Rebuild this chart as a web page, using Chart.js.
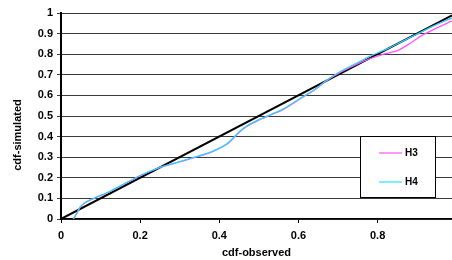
<!DOCTYPE html>
<html>
<head>
<meta charset="utf-8">
<script src="https://cdn.jsdelivr.net/npm/chart.js@4.4.1/dist/chart.umd.min.js"></script>
<style>
  html, body { margin: 0; padding: 0; background: #fff; }
  #wrap { width: 452px; height: 260px; position: relative; }
</style>
</head>
<body>
<div id="wrap"><canvas id="c"></canvas></div>
<script>
// cdf-observed vs cdf-simulated
const xTicks = [0, 0.2, 0.4, 0.6, 0.8];
const yTicks = [0, 0.1, 0.2, 0.3, 0.4, 0.5, 0.6, 0.7, 0.8, 0.9, 1];

const diagX = [0, 0.988];
const diagY = [0, 0.988];

const h3X = [0.031, 0.040, 0.048, 0.060, 0.086, 0.120, 0.160, 0.200, 0.250, 0.290, 0.340, 0.380, 0.420, 0.450, 0.470, 0.500, 0.530, 0.560, 0.600, 0.640, 0.670, 0.700, 0.740, 0.780, 0.810, 0.850, 0.880, 0.910, 0.950, 0.988];
const h3Y = [0.000, 0.028, 0.056, 0.078, 0.102, 0.130, 0.170, 0.210, 0.250, 0.272, 0.300, 0.325, 0.364, 0.420, 0.450, 0.480, 0.505, 0.530, 0.578, 0.626, 0.670, 0.706, 0.744, 0.778, 0.797, 0.817, 0.850, 0.889, 0.928, 0.962];

const h4X = [0.031, 0.040, 0.048, 0.060, 0.086, 0.120, 0.160, 0.200, 0.250, 0.290, 0.340, 0.380, 0.420, 0.450, 0.470, 0.500, 0.530, 0.560, 0.600, 0.640, 0.665, 0.700, 0.740, 0.780, 0.820, 0.860, 0.900, 0.940, 0.988];
const h4Y = [0.000, 0.028, 0.056, 0.079, 0.103, 0.131, 0.171, 0.211, 0.251, 0.273, 0.301, 0.326, 0.366, 0.422, 0.452, 0.482, 0.507, 0.532, 0.580, 0.626, 0.664, 0.710, 0.750, 0.790, 0.822, 0.860, 0.898, 0.936, 0.976];

const FONT = "'Liberation Sans', Arial, sans-serif";
const pts = (xs, ys) => xs.map((x, i) => ({ x, y: ys[i] }));

// legend box + y title drawn by hand (Excel-style inset legend)
const extras = {
  id: 'extras',
  afterDraw(chart) {
    const ctx = chart.ctx;
    ctx.save();
    ctx.font = 'bold 11px ' + FONT;
    ctx.fillStyle = '#000';
    ctx.textAlign = 'center';
    ctx.textBaseline = 'middle';
    ctx.translate(18, 135);
    ctx.rotate(-Math.PI / 2);
    ctx.fillText('cdf-simulated', 0, 0);
    ctx.restore();

    ctx.save();
    ctx.fillStyle = '#fff';
    ctx.fillRect(360, 136, 76, 61);
    ctx.strokeStyle = '#000';
    ctx.lineWidth = 1;
    ctx.strokeRect(360.5, 136.5, 75, 61);
    const entries = chart.data.datasets
      .filter(d => d.label !== 'y=x')
      .sort((a, b) => a.label.localeCompare(b.label));
    ctx.font = 'bold 10px ' + FONT;
    ctx.textBaseline = 'middle';
    ctx.textAlign = 'left';
    entries.forEach((d, i) => {
      const y = 153 + i * 29;
      ctx.strokeStyle = d.legendColor || d.borderColor;
      ctx.lineWidth = 1.2;
      ctx.beginPath();
      ctx.moveTo(379, y);
      ctx.lineTo(402, y);
      ctx.stroke();
      ctx.fillStyle = '#000';
      ctx.fillText(d.label, 405, y);
    });
    ctx.restore();
  }
};

// chart.js paints dataset 0 last (on top)
new Chart(document.getElementById('c'), {
  type: 'scatter',
  data: {
    datasets: [
      { label: 'H4', data: pts(h4X, h4Y), showLine: true, borderColor: '#33ccff', legendColor: '#22e5ff', borderWidth: 1.3, pointRadius: 0, tension: 0.2 },
      { label: 'H3', data: pts(h3X, h3Y), showLine: true, borderColor: '#ff55ff', borderWidth: 1.3, pointRadius: 0, tension: 0.2 },
      { label: 'y=x', data: pts(diagX, diagY), showLine: true, borderColor: '#000', borderWidth: 2, pointRadius: 0 },
    ],
  },
  options: {
    responsive: true,
    maintainAspectRatio: false,
    animation: false,
    layout: { padding: { top: 13, right: 0, left: 0, bottom: 0 } },
    plugins: { legend: { display: false }, tooltip: { enabled: false } },
    scales: {
      x: {
        type: 'linear',
        min: 0,
        max: 0.988,
        afterBuildTicks: s => { s.ticks = xTicks.map(v => ({ value: v })); },
        afterFit: s => { s.height = 41; },
        grid: { drawOnChartArea: false, drawTicks: true, tickLength: 4, color: '#000' },
        border: { color: '#000', width: 1.5 },
        ticks: { color: '#000', font: { family: FONT, size: 11, weight: 'bold' }, padding: 6, maxRotation: 0,
          callback: v => String(Math.round(v * 10) / 10) },
        title: { display: true, text: 'cdf-observed', color: '#000', font: { family: FONT, size: 11, weight: 'bold' }, padding: { top: 1, bottom: 0 } },
      },
      y: {
        min: 0,
        max: 1,
        afterBuildTicks: s => { s.ticks = yTicks.map(v => ({ value: v })); },
        afterFit: s => { s.width = 61; },
        grid: { color: '#3a3a3a', lineWidth: 1, tickLength: 4 },
        border: { color: '#000', width: 2 },
        ticks: { color: '#000', font: { family: FONT, size: 11, weight: 'bold' }, padding: 4,
          callback: v => String(Math.round(v * 10) / 10) },
      },
    },
  },
  plugins: [extras],
});
</script>
</body>
</html>
